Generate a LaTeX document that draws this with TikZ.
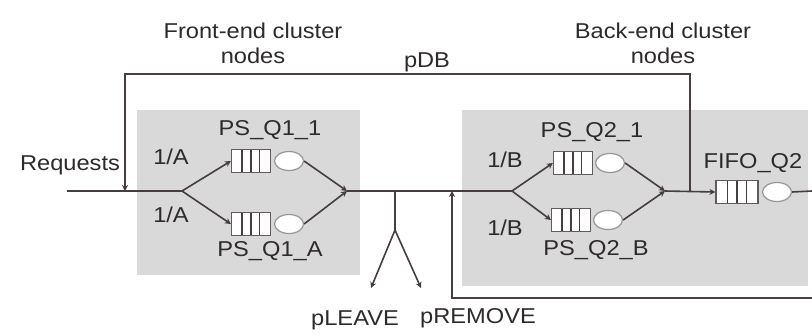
\documentclass[tikz,border=0pt]{standalone}
\usepackage{fontspec}
\setmainfont{Liberation Sans}[FakeStretch=1.1]
\usetikzlibrary{arrows.meta,shapes.geometric,calc}
\definecolor{ink}{HTML}{463E3E}
\definecolor{txt}{HTML}{2E2A2A}
\definecolor{panel}{HTML}{D9D9D9}
\tikzset{
  flow/.style={draw=ink,line width=1.6pt},
  arr/.style={flow,-{Stealth[length=6pt,width=6pt]}},
  cluster/.style={fill=panel,draw=none},
  lbl/.style={text=txt,inner sep=1pt,font=\fontsize{21.5}{25}\selectfont},
  queuebox/.style={rectangle,draw=ink!85,line width=1.2pt,fill=white,
    minimum width=39pt,minimum height=23pt,inner sep=0pt,
    path picture={
      \foreach \f in {0.27,0.5,0.72}
        \draw[ink,line width=1.3pt]
          ($(path picture bounding box.south west)!\f!(path picture bounding box.south east)$)
          -- ($(path picture bounding box.north west)!\f!(path picture bounding box.north east)$);
    }},
  server/.style={ellipse,draw=ink!55,line width=1.2pt,fill=white,
    minimum width=29pt,minimum height=19pt,inner sep=0pt},
}
\begin{document}
\begin{tikzpicture}[x=1pt,y=-1pt]
\useasboundingbox (0,0) rectangle (812,335);
\fill[white] (0,0) rectangle (812,335);

% cluster panels
\fill[cluster] (137,110) rectangle (360,275);
\fill[cluster] (462,110) rectangle (808,286);

% cluster captions
\node[lbl,align=center] (fecap) at (253,43) {Front-end cluster\\nodes};
\node[lbl,align=center] (becap) at (663,43) {Back-end cluster\\nodes};

% junction points on the main line
\coordinate (in) at (67,191);
\coordinate (fsplit) at (182,191);
\coordinate (fjoin) at (347,191);
\coordinate (branch) at (395,191);
\coordinate (bfork) at (395,230);
\coordinate (leave) at (371,288);
\coordinate (remove) at (421,288);
\coordinate (reenter) at (452,191);
\coordinate (bsplit) at (512,191);
\coordinate (bjoin) at (665,191);
\coordinate (dbtap) at (690,191);
\coordinate (dbtopr) at (690,74);
\coordinate (dbtopl) at (125,74);
\coordinate (dbin) at (125,191);
\coordinate (out) at (812,191);
\coordinate (loopr) at (812,298);
\coordinate (loopl) at (452,298);

% front-end queues
\node[queuebox] (q11) at (251,161) {};
\node[server] (s11) at (289,161) {};
\node[queuebox] (q1a) at (251,224) {};
\node[server] (s1a) at (289,224) {};

% back-end queues
\node[queuebox] (q21) at (573,163) {};
\node[server] (s21) at (610,163) {};
\node[queuebox] (q2b) at (571,220) {};
\node[server] (s2b) at (608,220) {};

% FIFO queue
\node[queuebox,minimum width=42pt] (fifo) at (737,192) {};
\node[server] (sfifo) at (777,192) {};

% main flow
\draw[flow] (in) -- (fsplit);
\draw[arr] (fsplit) -- (q11.west);
\draw[arr] (fsplit) -- (q1a.west);
\draw[arr] (s11.east) -- (fjoin);
\draw[arr] (s1a.east) -- (fjoin);
\draw[flow] (fjoin) -- (bsplit);
\draw[arr] (bsplit) -- (q21.west);
\draw[arr] (bsplit) -- (q2b.west);
\draw[arr] (s21.east) -- (bjoin);
\draw[arr] (s2b.east) -- (bjoin);
\draw[arr] (bjoin) -- (fifo.west);
\draw[flow] (sfifo.east) -- (out);

% leave / remove branch
\draw[flow] (branch) -- (bfork);
\draw[arr] (bfork) -- (leave);
\draw[arr] (bfork) -- (remove);

% database feedback loop
\draw[arr] (dbtap) -- (dbtopr) -- (dbtopl) -- (dbin);

% removal feedback loop
\draw[arr] (loopr) -- (loopl) -- (reenter);

% labels
\node[lbl] (req) at (70,165) {Requests};
\node[lbl] (pa1) at (171,157) {1/A};
\node[lbl] (pa2) at (171,215) {1/A};
\node[lbl] (nq11) at (270,130) {PS\_Q1\_1};
\node[lbl] (nq1a) at (270,251) {PS\_Q1\_A};
\node[lbl] (pdb) at (427,62) {pDB};
\node[lbl] (pleave) at (355,320) {pLEAVE};
\node[lbl] (premove) at (478,318) {pREMOVE};
\node[lbl] (pb1) at (505,160) {1/B};
\node[lbl] (pb2) at (505,228) {1/B};
\node[lbl] (nq21) at (592,132) {PS\_Q2\_1};
\node[lbl] (nq2b) at (596,250) {PS\_Q2\_B};
\node[lbl] (nfifo) at (753,163) {FIFO\_Q2};
\end{tikzpicture}
\end{document}
